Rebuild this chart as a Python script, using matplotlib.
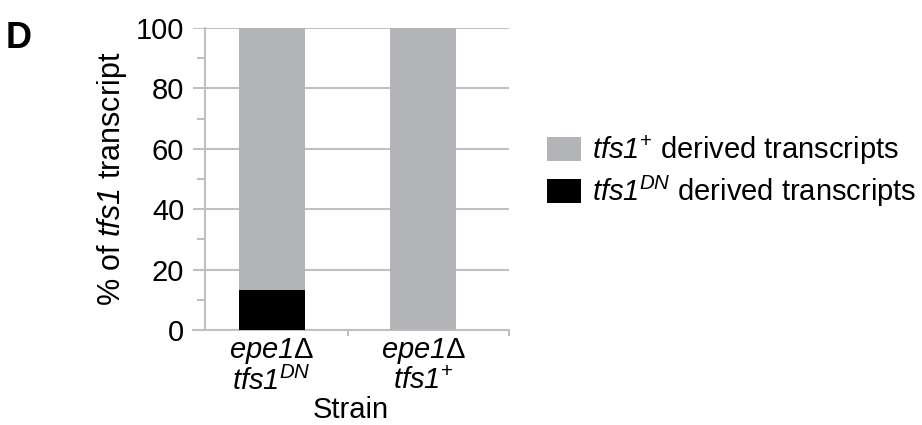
import matplotlib
matplotlib.use("Agg")
import matplotlib.pyplot as plt
from matplotlib.patches import Patch

plt.rcParams.update({
    "font.family": "Liberation Sans",
    "mathtext.fontset": "custom",
    "mathtext.rm": "Liberation Sans",
    "mathtext.sf": "Liberation Sans:italic",   # italic incl. digits
    "mathtext.it": "Liberation Sans:italic",
    "mathtext.bf": "Liberation Sans:bold",
    "font.size": 21,
})

strains = [r"$\mathsf{epe1}\Delta$" + "\n" + r"$\mathsf{tfs1}^{\mathsf{DN}}$",
           r"$\mathsf{epe1}\Delta$" + "\n" + r"$\mathsf{tfs1}^{+}$"]
dn_pct = [13.2, 0.0]
plus_pct = [86.8, 100.0]
series_labels = [r"$\mathsf{tfs1}^{+}$ derived transcripts",
                 r"$\mathsf{tfs1}^{\mathsf{DN}}$ derived transcripts"]

GRAY, BLACK, GRID = "#b3b4b8", "#000000", "#c0c0c0"
W, H = 922, 425

fig = plt.figure(figsize=(W / 100, H / 100), dpi=100)
# axes box spans the gridline extent (gridlines reach past the y-axis like ticks)
ax = fig.add_axes([193 / W, 1 - 330 / H, 316 / W, 302 / H])

x = list(range(len(strains)))
ax.bar(x, dn_pct, width=0.435, color=BLACK, zorder=3)
ax.bar(x, plus_pct, bottom=dn_pct, width=0.435, color=GRAY, zorder=3)

xmin, xmax = -0.52, 1.565
ax.set_xlim(xmin, xmax)
ax.set_ylim(0, 100)
ax.set_yticks(range(0, 101, 20))
ax.set_yticks(range(10, 100, 20), minor=True)
ax.yaxis.grid(True, color=GRID, linewidth=1.5, zorder=0)
ax.set_xticks(x)
ax.set_xticklabels(strains, linespacing=1.06)
ax.set_xticks([0.5, xmax], minor=True)
ax.tick_params(axis="x", which="major", length=0, pad=4)
ax.tick_params(axis="x", which="minor", length=4, color=GRID, width=1.5, direction="out")
ax.tick_params(axis="y", which="major", length=0, pad=15)
ax.tick_params(axis="y", which="minor", length=5.8, color=GRID, width=1.5)
for s in ["top", "right"]:
    ax.spines[s].set_visible(False)
for s in ["left", "bottom"]:
    ax.spines[s].set_color(GRID)
    ax.spines[s].set_linewidth(1.5)
# y-axis line sits 12 px inside the left edge of the gridlines
ax.spines["left"].set_position(("data", xmin + 12 / 316 * (xmax - xmin)))

ax.set_ylabel(r"% of $\mathsf{tfs1}$ transcript", fontsize=22, labelpad=5)
ax.set_xlabel("Strain", labelpad=0)

handles = [Patch(facecolor=GRAY, edgecolor="none"), Patch(facecolor=BLACK, edgecolor="none")]
fig.legend(handles, series_labels, loc="upper left", bbox_to_anchor=(547 / W, 1 - 133 / H),
           frameon=False, handlelength=1.17, handleheight=0.88, handletextpad=0.38,
           labelspacing=0.25, borderaxespad=0, borderpad=0)

fig.text(6 / W, 1 - 48 / H, "D", fontsize=26, fontweight="bold", va="baseline", ha="left")

fig.savefig("out.png", dpi=100)
